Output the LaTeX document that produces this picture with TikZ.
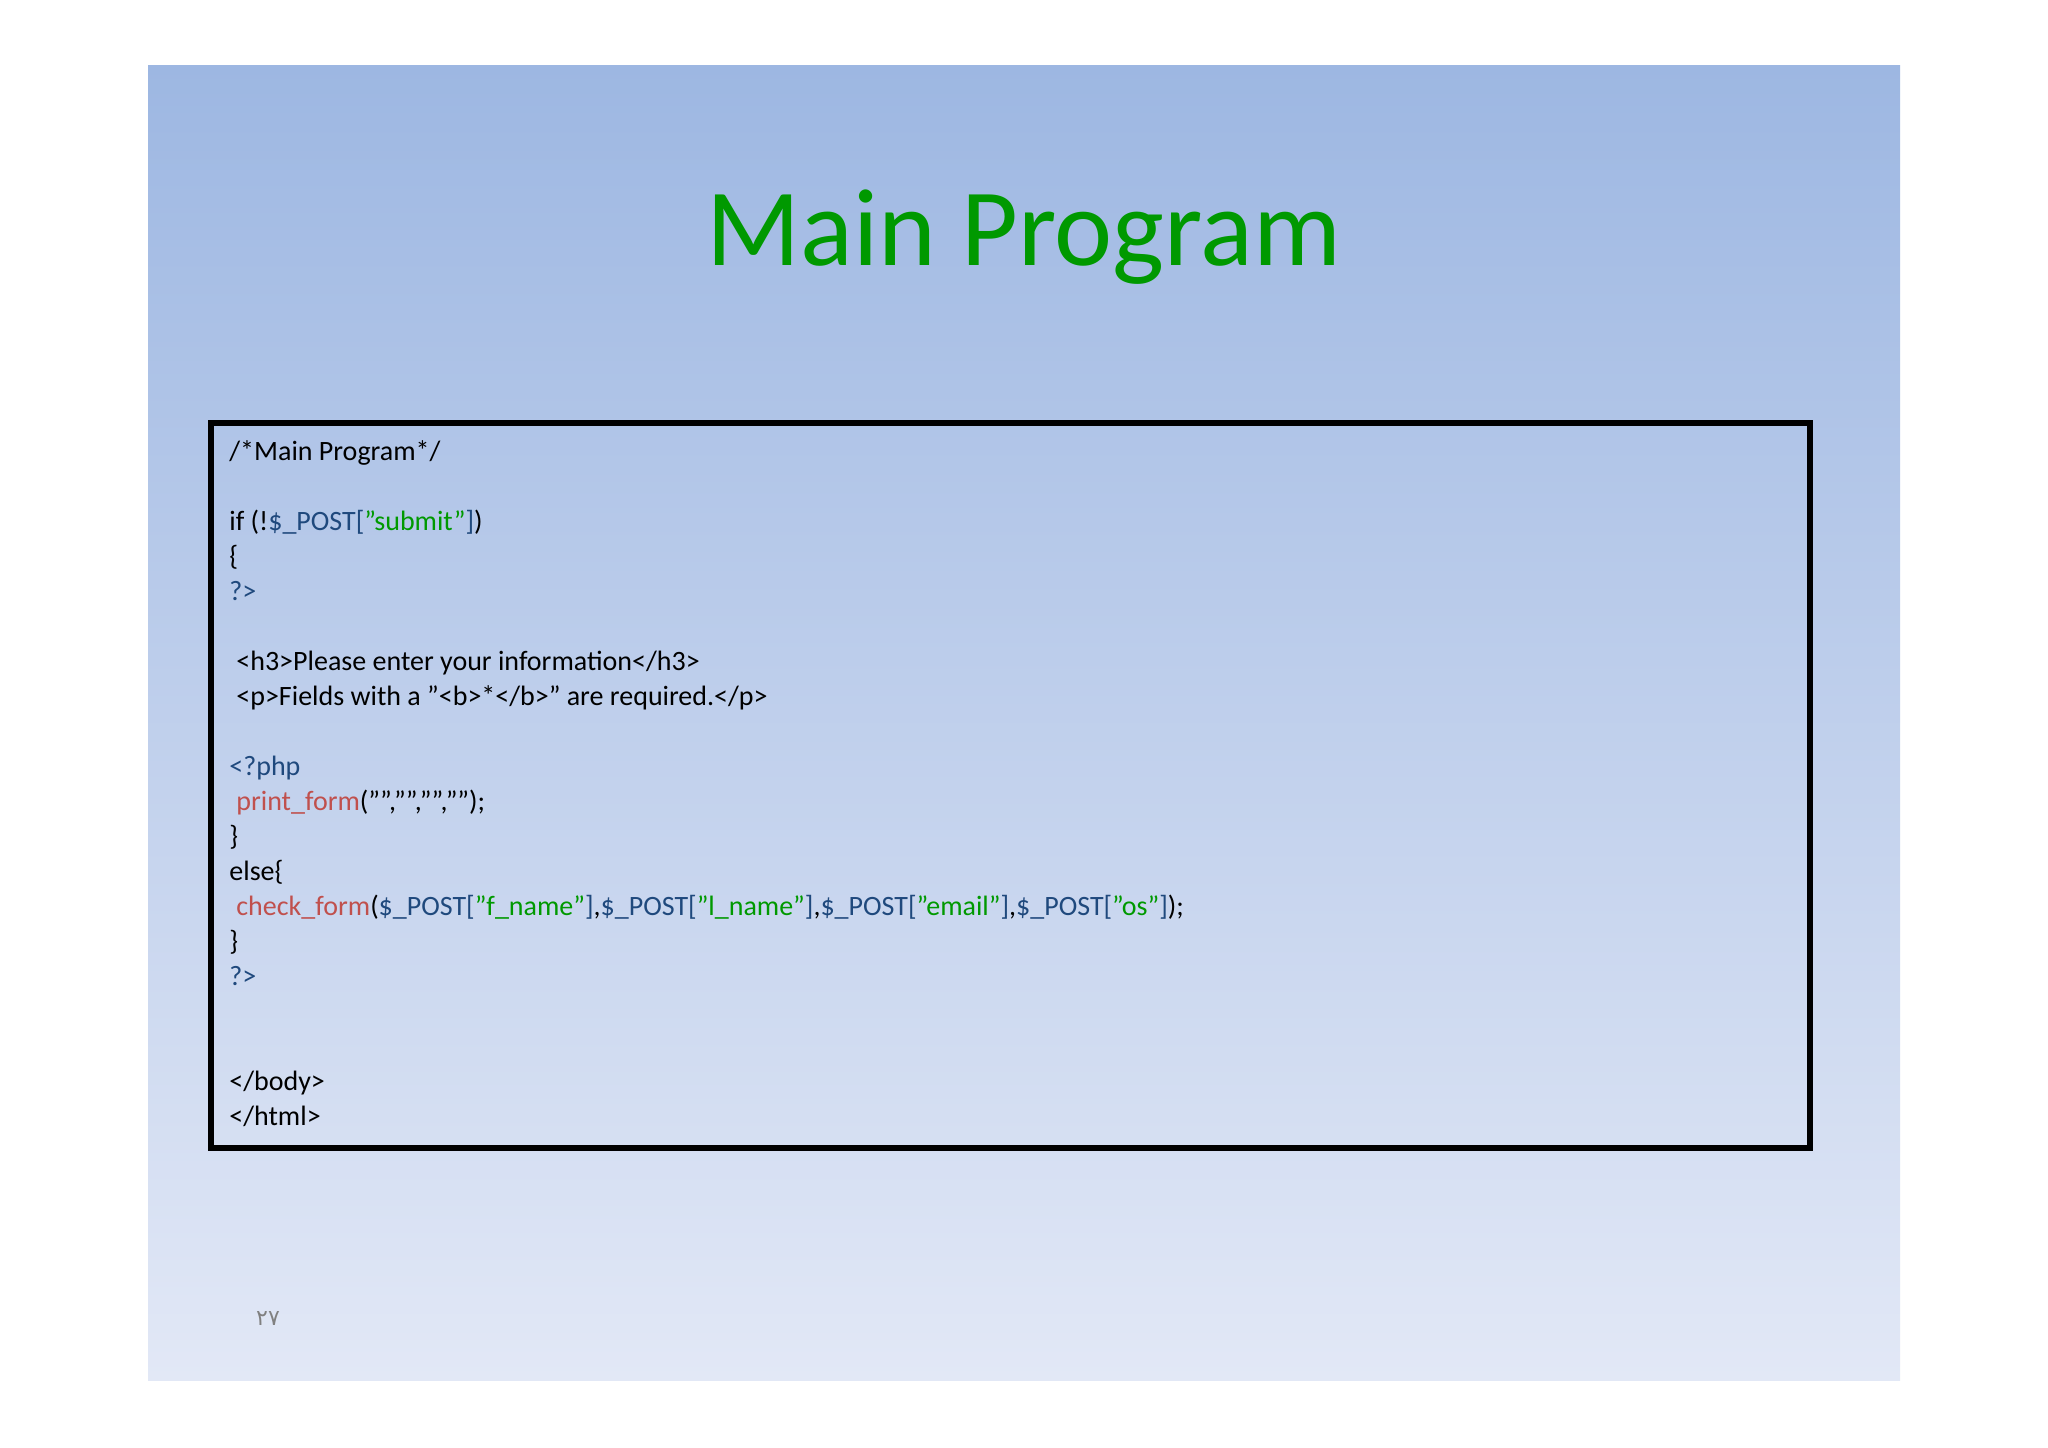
\documentclass[tikz,border=0pt]{standalone}
\usepackage{fontspec}
\setmainfont{Carlito}
\newfontfamily\arabicdigits{DejaVu Sans}
\definecolor{slidetop}{RGB}{157,183,226}
\definecolor{slidebot}{RGB}{226,232,246}
\definecolor{titlegreen}{RGB}{0,153,0}
\definecolor{kwblue}{RGB}{31,73,125}
\definecolor{fnred}{RGB}{192,80,77}
\definecolor{strgreen}{RGB}{0,153,0}
\newcommand\kb[1]{\textcolor{kwblue}{#1}}
\newcommand\fr[1]{\textcolor{fnred}{#1}}
\newcommand\sg[1]{\textcolor{strgreen}{#1}}
\begin{document}
\begin{tikzpicture}[x=0.5pt,y=-0.5pt,
  code/.style={anchor=base west,inner sep=0pt,font=\fontsize{14}{17}\selectfont},
  title/.style={anchor=base,inner sep=0pt,text=titlegreen,font=\fontsize{55}{60}\selectfont}]
  \useasboundingbox (0,0) rectangle (2048,1447);
  \fill[white] (0,0) rectangle (2048,1447);
  \shade[top color=slidetop,bottom color=slidebot] (148,65) rectangle (1900,1380);
  \node[title] (t) at (1024,265) {Main Program};
  \draw[line width=2.6pt] (211,423) rectangle (1810,1148);
  \node[code] (l0) at (229,460) {/*Main Program*/};
  \node[code] (l2) at (229,530) {if (!\kb{\$\_POST[}\sg{"submit"}\kb{]})};
  \node[code] (l3) at (229,565) {\{};
  \node[code] (l4) at (229,600) {\kb{?>}};
  \node[code] (l6) at (236,670) {<h3>Please enter your information</h3>};
  \node[code] (l7) at (236,705) {<p>Fields with a "<b>*</b>" are required.</p>};
  \node[code] (l9) at (229,775) {\kb{<?php}};
  \node[code] (l10) at (236,810) {\fr{print\_form}("","","","");};
  \node[code] (l11) at (229,845) {\}};
  \node[code] (l12) at (229,880) {else\{};
  \node[code] (l13) at (236,915) {\fr{check\_form}(\kb{\$\_POST[}\sg{"f\_name"}\kb{]},\kb{\$\_POST[}\sg{"l\_name"}\kb{]},\kb{\$\_POST[}\sg{"email"}\kb{]},\kb{\$\_POST[}\sg{"os"}\kb{]});};
  \node[code] (l14) at (229,950) {\}};
  \node[code] (l15) at (229,985) {\kb{?>}};
  \node[code] (l18) at (229,1090) {</body>};
  \node[code] (l19) at (229,1125) {</html>};
  \node[anchor=base,inner sep=0pt,text=gray,font=\arabicdigits\fontsize{11}{12}\selectfont] (pg) at (268,1325) {٢٧};
\end{tikzpicture}
\end{document}
